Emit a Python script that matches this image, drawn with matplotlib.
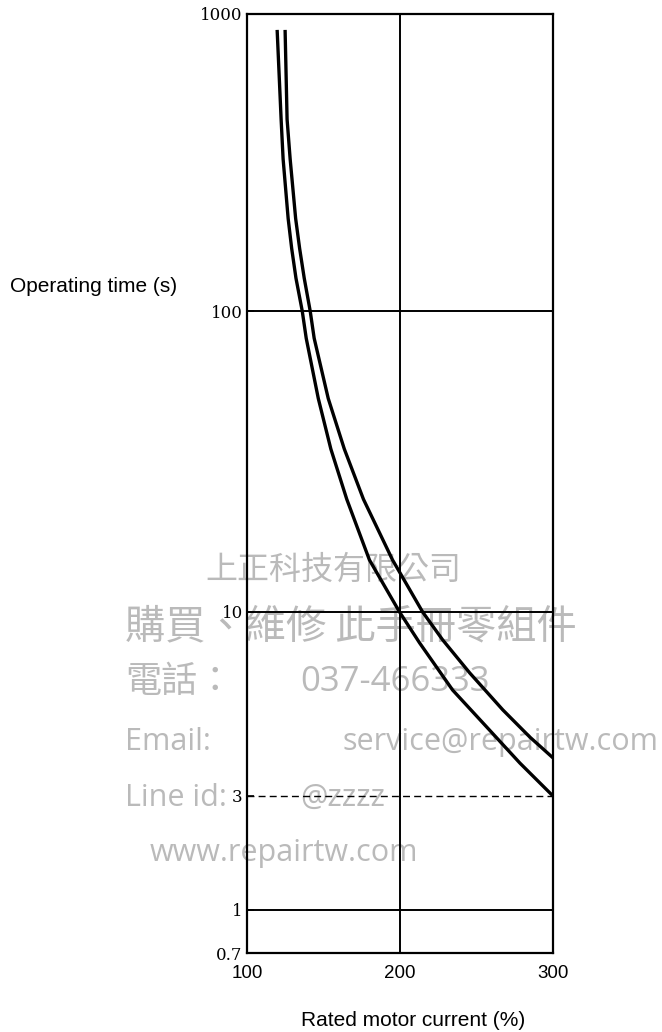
import numpy as np
import matplotlib
matplotlib.use("Agg")
import matplotlib.pyplot as plt

# Operating characteristic of the electronic thermal overload
current_lower = [119.7, 122.3, 123.6, 126.9, 129.2, 132.0, 136.1, 138.7, 146.6,
                 154.8, 165.2, 180.0, 199.7, 212.8, 234.4, 256.7, 278.4, 300.0]
time_lower = [884, 442, 325, 204.7, 162.4, 129, 100, 81.2, 51.2,
              34.8, 23.7, 14.9, 10.0, 8.17, 6.0, 4.71, 3.72, 3.0]

current_upper = [124.9, 126.2, 128.2, 131.8, 134.4, 137.4, 141.3, 143.9, 153.1,
                 163.6, 176.1, 195.1, 214.8, 227.9, 245.6, 267.2, 284.9, 300.0]
time_upper = [884, 442, 325, 204.7, 162.4, 129, 100, 81.2, 51.2,
              34.8, 23.7, 14.9, 10.0, 8.33, 6.71, 5.27, 4.41, 3.85]

x_ticks = [100, 200, 300]
y_ticks = [0.7, 1, 3, 10, 100, 1000]
y_tick_labels = ["0.7", "1", "3", "10", "100", "1000"]

# Chart paper uses a stretched logarithmic ruling below 10 s
scale_values = [0.7, 1, 3, 10, 100, 1000]
scale_pos = [0, 43, 157, 341, 642, 939]


def fwd(v):
    v = np.clip(np.asarray(v, dtype=float), 1e-6, None)
    return np.interp(np.log10(v), np.log10(scale_values), scale_pos,
                     left=-1e3, right=2e3)


def inv(p):
    p = np.asarray(p, dtype=float)
    return 10 ** np.interp(p, scale_pos, np.log10(scale_values))


W, H = 662, 1032
fig = plt.figure(figsize=(W / 100, H / 100), dpi=100)
fig.patch.set_facecolor("white")

ax = fig.add_axes([247 / W, (H - 953) / H, (553 - 247) / W, (953 - 14) / H])
ax.patch.set_visible(False)
ax.set_yscale("function", functions=(fwd, inv))
ax.set_xlim(100, 300)
ax.set_ylim(0.7, 1000)

# grid ruling
for yv in [1, 10, 100]:
    ax.axhline(yv, color="black", lw=1.4, zorder=1)
ax.axhline(3, color="black", lw=1.0, ls=(0, (5, 3)), zorder=1)
ax.axvline(200, color="black", lw=1.4, zorder=1)

ax.plot(current_lower, time_lower, color="black", lw=2.4, zorder=3,
        solid_capstyle="butt", solid_joinstyle="round")
ax.plot(current_upper, time_upper, color="black", lw=2.4, zorder=3,
        solid_capstyle="butt", solid_joinstyle="round")

for s in ax.spines.values():
    s.set_linewidth(1.6)

ax.set_yticks(y_ticks)
ax.set_yticklabels(y_tick_labels, family="DejaVu Serif", fontsize=12)
ax.yaxis.set_minor_locator(matplotlib.ticker.NullLocator())
ax.tick_params(axis="y", direction="in", length=5, width=1.2, pad=3)

ax.set_xticks(x_ticks)
ax.set_xticklabels([str(v) for v in x_ticks], family="Liberation Sans",
                   fontsize=13.5)
ax.tick_params(axis="x", length=0, pad=9)

fig.text(10 / W, 1 - 287 / H, "Operating time (s)", family="Liberation Sans",
         fontsize=15, ha="left", va="center")
fig.text(413 / W, 1 - 1020 / H, "Rated motor current (%)",
         family="Liberation Sans", fontsize=15, ha="center", va="center")

# shop watermark
wm_cjk = dict(color="#bababa", zorder=-1, va="center", ha="left",
              family=["Noto Sans CJK TC", "DejaVu Sans"])
wm_lat = dict(color="#bababa", zorder=-1, va="center", ha="left",
              family=["Open Sans", "Noto Sans CJK TC"])
fig.text(205 / W, 1 - 570 / H, "上正科技有限公司", fontsize=23, **wm_cjk)
fig.text(125 / W, 1 - 627 / H, "購買、維修 此手冊零組件", fontsize=29, **wm_cjk)
fig.text(125 / W, 1 - 682 / H, "電話：", fontsize=26, **wm_cjk)
fig.text(300 / W, 1 - 682 / H, "037-466333", fontsize=25, **wm_lat)
fig.text(125 / W, 1 - 742 / H, "Email:", fontsize=22, **wm_lat)
fig.text(342 / W, 1 - 742 / H, "service@repairtw.com", fontsize=22, **wm_lat)
fig.text(125 / W, 1 - 798 / H, "Line id:", fontsize=22, **wm_lat)
fig.text(300 / W, 1 - 798 / H, "@zzzz", fontsize=22, **wm_lat)
fig.text(150 / W, 1 - 853 / H, "www.repairtw.com", fontsize=22, **wm_lat)

fig.savefig("out.png", dpi=100, facecolor="white")
